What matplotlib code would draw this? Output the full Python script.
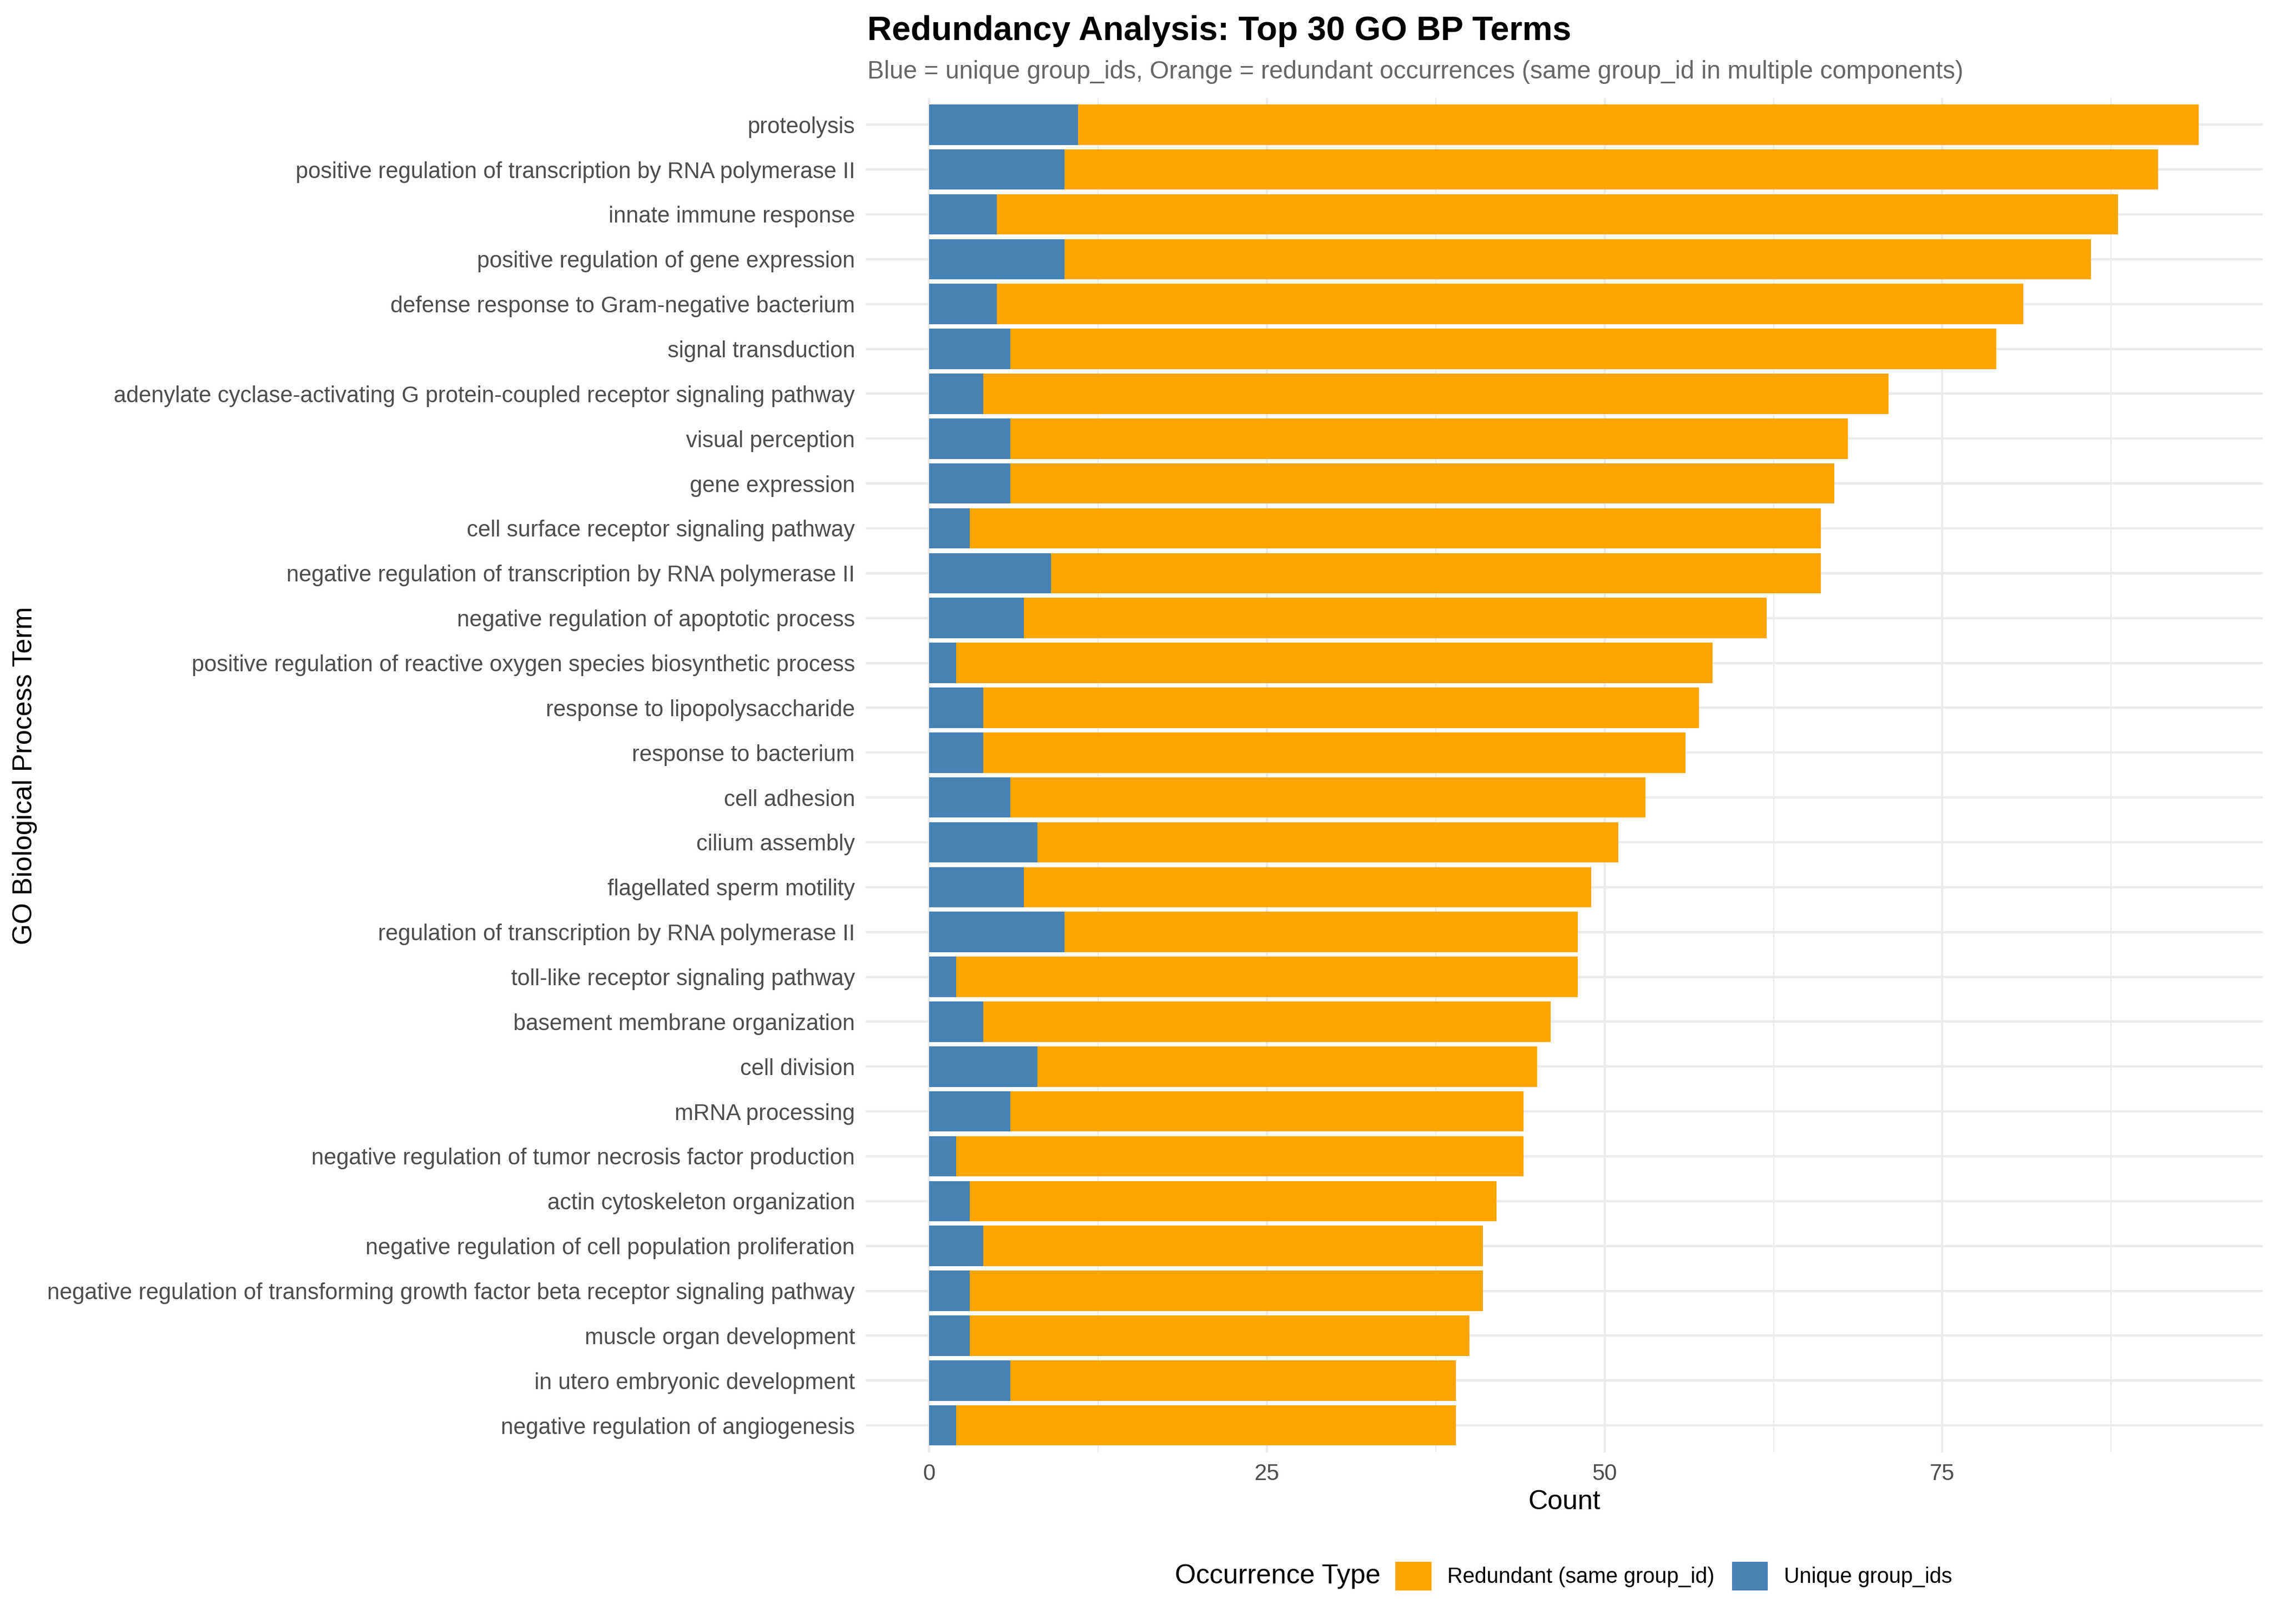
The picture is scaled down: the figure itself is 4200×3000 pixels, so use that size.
import matplotlib
matplotlib.use("Agg")
import matplotlib.pyplot as plt
from matplotlib.patches import Patch
import numpy as np

plt.rcParams['font.family'] = ['Liberation Sans', 'DejaVu Sans']

terms = [
    "proteolysis",
    "positive regulation of transcription by RNA polymerase II",
    "innate immune response",
    "positive regulation of gene expression",
    "defense response to Gram-negative bacterium",
    "signal transduction",
    "adenylate cyclase-activating G protein-coupled receptor signaling pathway",
    "visual perception",
    "gene expression",
    "cell surface receptor signaling pathway",
    "negative regulation of transcription by RNA polymerase II",
    "negative regulation of apoptotic process",
    "positive regulation of reactive oxygen species biosynthetic process",
    "response to lipopolysaccharide",
    "response to bacterium",
    "cell adhesion",
    "cilium assembly",
    "flagellated sperm motility",
    "regulation of transcription by RNA polymerase II",
    "toll-like receptor signaling pathway",
    "basement membrane organization",
    "cell division",
    "mRNA processing",
    "negative regulation of tumor necrosis factor production",
    "actin cytoskeleton organization",
    "negative regulation of cell population proliferation",
    "negative regulation of transforming growth factor beta receptor signaling pathway",
    "muscle organ development",
    "in utero embryonic development",
    "negative regulation of angiogenesis",
]
unique_ids = [11, 10, 5, 10, 5, 6, 4, 6, 6, 3, 9, 7, 2, 4, 4, 6, 8, 7, 10, 2,
              4, 8, 6, 2, 3, 4, 3, 3, 6, 2]
redundant = [83, 81, 83, 76, 76, 73, 67, 62, 61, 63, 57, 55, 56, 53, 52, 47, 43, 42, 38, 46,
             42, 37, 38, 42, 39, 37, 38, 37, 33, 37]
x_ticks = [0, 25, 50, 75]
x_minor = [12.5, 37.5, 62.5, 87.5]

ORANGE = "#FFA500"
BLUE = "#4682B4"
GRID = "#EBEBEB"

W, H = 1568.0, 1120.0
PL, PR, PT, PB = 597.0, 1560.0, 67.4, 1001.6
fig = plt.figure(figsize=(14, 10), dpi=300)
ax = fig.add_axes([PL / W, 1 - PB / H, (PR - PL) / W, (PB - PT) / H])

y = np.arange(len(terms))
u = np.array(unique_ids)
r = np.array(redundant)
ax.barh(y, u, height=0.9, color=BLUE, zorder=3, linewidth=0)
ax.barh(y, r, left=u, height=0.9, color=ORANGE, zorder=3, linewidth=0)

tot = (u + r).max()
ax.set_xlim(-0.05 * tot, tot * 1.05)
ax.set_ylim(len(terms) - 0.4, -0.6)

ax.set_yticks(y)
ax.set_yticklabels(terms)
ax.set_xticks(x_ticks)
ax.set_xticklabels([str(t) for t in x_ticks])
ax.set_xticks(x_minor, minor=True)

for t in x_ticks:
    ax.axvline(t, color=GRID, lw=1.07, zorder=1)
for t in x_minor:
    ax.axvline(t, color=GRID, lw=0.53, zorder=1)
for yy in y:
    ax.axhline(yy, color=GRID, lw=1.07, zorder=1)

for s in ax.spines.values():
    s.set_visible(False)
ax.tick_params(axis='both', which='both', length=0, pad=4.8, labelsize=10, labelcolor='#4D4D4D')

cx = (PL + PR) / 2 / W
fig.text(cx, 1 - 1036 / H, "Count", ha='center', va='center', fontsize=12)
fig.text(17 / W, 1 - 535 / H, "GO Biological Process Term", ha='center', va='center',
         rotation=90, fontsize=12)

fig.text(598 / W, 1 - 27.5 / H, "Redundancy Analysis: Top 30 GO BP Terms",
         ha='left', va='baseline', fontsize=15, fontweight='bold')
fig.text(598 / W, 1 - 54 / H,
         "Blue = unique group_ids, Orange = redundant occurrences (same group_id in multiple components)",
         ha='left', va='baseline', fontsize=11, color='#666666')

fig.text(952 / W, 1 - 1087 / H, "Occurrence Type", ha='right', va='center', fontsize=12)
handles = [Patch(facecolor=ORANGE, edgecolor='none', label="Redundant (same group_id)"),
           Patch(facecolor=BLUE, edgecolor='none', label="Unique group_ids")]
fig.legend(handles=handles, loc='center left', bbox_to_anchor=(962 / W, 1 - 1087 / H),
           ncol=2, frameon=False, fontsize=9.5, handlelength=1.69, handleheight=1.69,
           handletextpad=0.74, columnspacing=0.81, borderpad=0, borderaxespad=0)

fig.savefig("out.png", dpi=300, facecolor='white')
